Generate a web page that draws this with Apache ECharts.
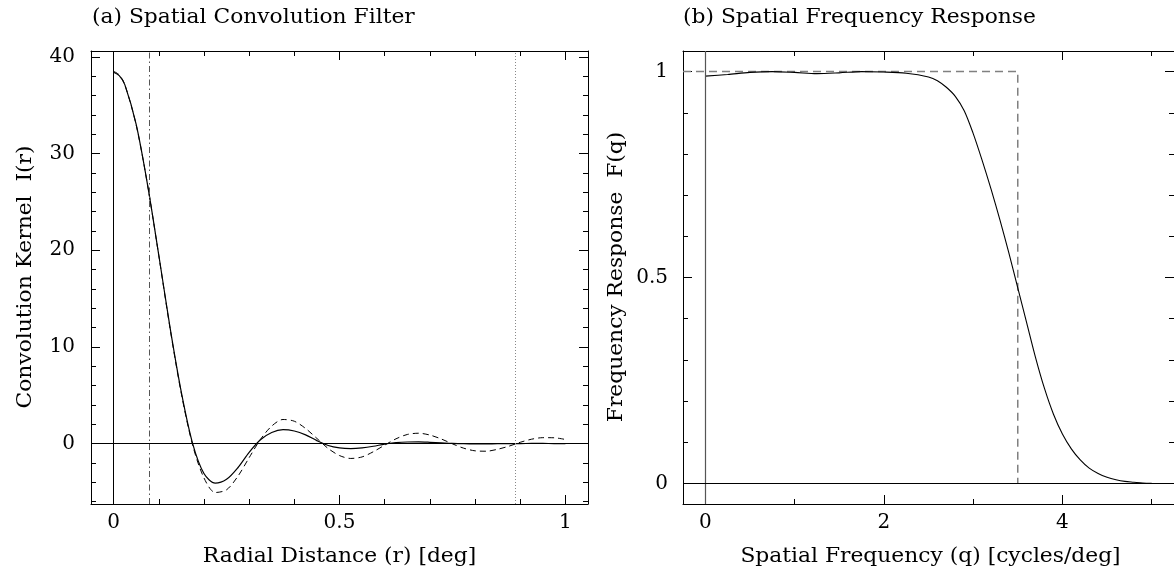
<!DOCTYPE html>
<html>
<head>
<meta charset="utf-8">
<script src="https://cdn.jsdelivr.net/npm/echarts@6/dist/echarts.min.js"></script>
<style>
html,body{margin:0;padding:0;background:#fff;}
#c{width:1174px;height:573px;}
</style>
</head>
<body>
<div id="c"></div>
<script>
// ---------- Data ----------
const titleA = '(a) Spatial Convolution Filter';
const titleB = '(b) Spatial Frequency Response';
const xNameA = 'Radial Distance (r) [deg]';
const yNameA = 'Convolution Kernel  I(r)';
const xNameB = 'Spatial Frequency (q) [cycles/deg]';
const yNameB = 'Frequency Response  F(q)';

// Panel (a): radial distance samples
const radius = [0, 0.0125, 0.025, 0.05, 0.075, 0.1, 0.125, 0.15, 0.175, 0.2, 0.225, 0.25, 0.275, 0.3, 0.325, 0.35, 0.375, 0.4, 0.425, 0.45, 0.475, 0.5, 0.525, 0.55, 0.575, 0.6, 0.625, 0.65, 0.675, 0.7, 0.725, 0.75, 0.775, 0.8, 0.825, 0.85, 0.875, 0.9, 0.925, 0.95, 0.975, 1.0];
// solid: tapered kernel
const kernelTapered = [38.4, 38.05, 37.1, 33.0, 26.8, 19.5, 12.0, 5.3, 0.0, -3.1, -4.1, -3.7, -2.5, -0.9, 0.4, 1.15, 1.44, 1.3, 0.9, 0.3, -0.2, -0.45, -0.52, -0.45, -0.28, -0.05, 0.09, 0.16, 0.17, 0.13, 0.07, 0.01, -0.02, -0.03, -0.03, -0.02, -0.01, 0.0, 0.01, 0.01, 0.0, 0.0];
// dashed: ideal kernel
const kernelIdeal = [38.5, 38.13, 37.1, 32.95, 26.8, 19.45, 11.9, 5.15, -0.17, -3.55, -5.06, -4.78, -3.39, -1.46, 0.43, 1.81, 2.49, 2.31, 1.56, 0.53, -0.51, -1.24, -1.54, -1.38, -0.84, -0.16, 0.49, 0.94, 1.07, 0.88, 0.48, -0.03, -0.48, -0.75, -0.79, -0.59, -0.27, 0.13, 0.45, 0.61, 0.6, 0.42];
const markerDashDot = 0.083;
const markerDotted = 0.891;

// Panel (b): spatial frequency samples
const freq = [0, 0.25, 0.5, 0.75, 1.0, 1.25, 1.5, 1.75, 2.0, 2.25, 2.5, 2.6, 2.7, 2.8, 2.9, 3.0, 3.1, 3.2, 3.3, 3.4, 3.5, 3.6, 3.7, 3.8, 3.9, 4.0, 4.1, 4.2, 4.3, 4.4, 4.5, 4.6, 4.7, 4.8, 4.9, 5.0];
const responseTapered = [0.989, 0.993, 0.998, 1.0, 0.998, 0.995, 0.997, 1.0, 0.999, 0.996, 0.987, 0.978, 0.962, 0.94, 0.905, 0.85, 0.785, 0.715, 0.64, 0.56, 0.475, 0.39, 0.305, 0.23, 0.168, 0.12, 0.084, 0.057, 0.037, 0.024, 0.015, 0.009, 0.005, 0.003, 0.001, 0.0];
const idealFreq = [-0.25, 3.5, 3.5];
const idealResp = [1, 1, 0];

// Tick labels / tick positions
const xMajorA = [0, 0.5, 1];
const xMinorA = [0.1, 0.2, 0.3, 0.4, 0.6, 0.7, 0.8, 0.9];
const yMajorA = [0, 10, 20, 30, 40];
const yMinorA = [-6, -4, -2, 2, 4, 6, 8, 12, 14, 16, 18, 22, 24, 26, 28, 32, 34, 36, 38];
const xMajorB = [0, 2, 4];
const xMinorB = [1, 3, 5];
const yMajorB = [0, 0.5, 1];
const yMinorB = [0.1, 0.2, 0.3, 0.4, 0.6, 0.7, 0.8, 0.9];

// ---------- Chart ----------
const FONT = 'DejaVu Serif';
const FS = 20;
const SX = 1.09; // horizontal stretch to mimic the wide plotter font
const chart = echarts.init(document.getElementById('c'), null, {renderer: 'canvas'});

function axis(grid, pos, min, max, ticks, len, opts) {
  return {
    type: 'value', gridIndex: grid, position: pos, min: min, max: max,
    splitLine: {show: false},
    axisLine: {show: !!opts.line, onZero: false, lineStyle: {color: '#000', width: 1}},
    axisTick: {show: true, inside: true, length: len, customValues: ticks, lineStyle: {color: '#000', width: 1}},
    axisLabel: opts.labels ? {show: true, customValues: ticks, margin: opts.margin, fontFamily: FONT, fontSize: FS, color: '#000'} : {show: false},
    axisPointer: {show: false}
  };
}

const xAxes = [
  axis(0, 'bottom', -0.05, 1.05, xMajorA, 9, {line: true, labels: true, margin: 9}),
  axis(0, 'bottom', -0.05, 1.05, xMinorA, 5, {}),
  axis(0, 'top', -0.05, 1.05, xMajorA, 9, {line: true}),
  axis(0, 'top', -0.05, 1.05, xMinorA, 5, {}),
  axis(1, 'bottom', -0.25, 5.25, xMajorB, 9, {line: true, labels: true, margin: 9}),
  axis(1, 'bottom', -0.25, 5.25, xMinorB, 5, {}),
  axis(1, 'top', -0.25, 5.25, xMajorB, 9, {line: true}),
  axis(1, 'top', -0.25, 5.25, xMinorB, 5, {})
];
const yAxes = [
  axis(0, 'left', -6.25, 40.6, yMajorA, 9, {line: true, labels: true, margin: 16}),
  axis(0, 'left', -6.25, 40.6, yMinorA, 5, {}),
  axis(0, 'right', -6.25, 40.6, yMajorA, 9, {line: true}),
  axis(0, 'right', -6.25, 40.6, yMinorA, 5, {}),
  axis(1, 'left', -0.05, 1.05, yMajorB, 9, {line: true, labels: true, margin: 15}),
  axis(1, 'left', -0.05, 1.05, yMinorB, 5, {}),
  axis(1, 'right', -0.05, 1.05, yMajorB, 9, {line: true}),
  axis(1, 'right', -0.05, 1.05, yMinorB, 5, {})
];

function pairs(xs, ys) { return xs.map((x, i) => [x, ys[i]]); }

function label(text, x, y, align, rot) {
  return {
    type: 'text', x: x, y: y, rotation: rot || 0, scaleX: SX, silent: true,
    style: {text: text, fontFamily: FONT, fontSize: FS, fill: '#000', align: align, verticalAlign: 'middle'}
  };
}

const noSym = {symbol: 'none', silent: true, label: {show: false}};

const option = {
  animation: false,
  backgroundColor: '#fff',
  graphic: [
    label(titleA, 92, 18, 'left'),
    label(titleB, 683, 18, 'left'),
    label(xNameA, 339.5, 557, 'center'),
    label(xNameB, 930.5, 557, 'center'),
    label(yNameA, 26, 277, 'center', Math.PI / 2),
    label(yNameB, 617, 277, 'center', Math.PI / 2)
  ],
  grid: [
    {left: 91, top: 51, width: 497, height: 453, containLabel: false},
    {left: 683, top: 51, width: 495, height: 453, containLabel: false}
  ],
  xAxis: xAxes,
  yAxis: yAxes,
  series: [
    {
      type: 'line', xAxisIndex: 0, yAxisIndex: 0, data: pairs(radius, kernelIdeal),
      smooth: 0.3, showSymbol: false, symbol: 'none',
      lineStyle: {color: '#000', width: 1, type: [6, 4]}, z: 3
    },
    {
      type: 'line', xAxisIndex: 0, yAxisIndex: 0, data: pairs(radius, kernelTapered),
      smooth: 0.3, showSymbol: false, symbol: 'none',
      lineStyle: {color: '#000', width: 1.2}, z: 4,
      markLine: Object.assign({}, noSym, {
        data: [
          {xAxis: 0, lineStyle: {color: '#000', width: 1, type: 'solid'}},
          {yAxis: 0, lineStyle: {color: '#000', width: 1.2, type: 'solid'}},
          {xAxis: markerDashDot, lineStyle: {color: '#555', width: 1, type: [6, 3, 1.5, 3]}},
          {xAxis: markerDotted, lineStyle: {color: '#888', width: 1, type: [1, 2]}}
        ]
      })
    },
    {
      type: 'line', xAxisIndex: 4, yAxisIndex: 4, data: pairs(idealFreq, idealResp),
      smooth: false, showSymbol: false, symbol: 'none',
      lineStyle: {color: '#808080', width: 1.5, type: [8, 5]}, z: 3
    },
    {
      type: 'line', xAxisIndex: 4, yAxisIndex: 4, data: pairs(freq, responseTapered),
      smooth: 0.3, showSymbol: false, symbol: 'none',
      lineStyle: {color: '#000', width: 1.1}, z: 4,
      markLine: Object.assign({}, noSym, {
        data: [
          {xAxis: 0, lineStyle: {color: '#555', width: 1.2, type: 'solid'}},
          {yAxis: 0, lineStyle: {color: '#000', width: 1.2, type: 'solid'}}
        ]
      })
    }
  ]
};
chart.setOption(option);
</script>
</body>
</html>
